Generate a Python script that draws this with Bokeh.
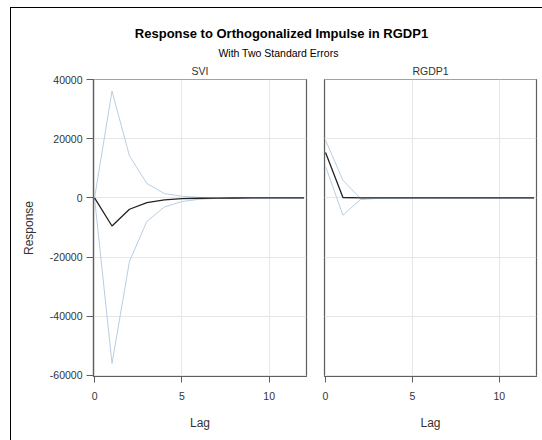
from bokeh.plotting import figure
from bokeh.layouts import column, row
from bokeh.models import Range1d, FixedTicker, Label, ColumnDataSource
from bokeh.embed import file_html
from bokeh.resources import INLINE

# ---- data ----
lags = list(range(13))
svi_resp = [0, -9500, -3830, -1560, -680, -250, -100, -35, -10, 0, 0, 0, 0]
svi_upper = [0, 36170, 14240, 4880, 1490, 580, 200, 70, 20, 5, 0, 0, 0]
svi_lower = [0, -56030, -21460, -7900, -3050, -1220, -450, -150, -50, -15, 0, 0, 0]
rgdp_resp = [15390, 150, 20, 0, 0, 0, 0, 0, 0, 0, 0, 0, 0]
rgdp_upper = [19560, 6000, -100, 30, 10, 0, 0, 0, 0, 0, 0, 0, 0]
rgdp_lower = [10750, -5860, -550, -150, -30, 0, 0, 0, 0, 0, 0, 0, 0]
panel_names = ["SVI", "RGDP1"]
y_ticks = [-60000, -40000, -20000, 0, 20000, 40000]
y_tick_labels = ["-60000", "-40000", "-20000", "0", "20000", "40000"]
x_ticks = [0, 5, 10]
main_title = "Response to Orthogonalized Impulse in RGDP1"
sub_title = "With Two Standard Errors"
x_label = "Lag"
y_label = "Response"

FONT = "Liberation Sans"
TXT = "#333333"
FRAME = "#5e5e5e"
GRID = "#e6e6e6"
BAND = "#b9cde3"
LINE = "#222222"

# ---- title block ----
tfig = figure(width=542, height=60, x_range=Range1d(0, 1), y_range=Range1d(0, 1),
              output_backend="svg", toolbar_location=None,
              x_axis_location=None, y_axis_location=None,
              min_border=0, min_border_left=0, min_border_right=0,
              min_border_top=0, min_border_bottom=0)
tfig.outline_line_color = None
tfig.border_fill_color = None
tfig.background_fill_color = None
tfig.xgrid.visible = False
tfig.ygrid.visible = False
tfig.add_layout(Label(x=281, y=27, x_units="screen", y_units="screen", text=main_title,
                      text_font=FONT, text_font_size="13px", text_font_style="bold",
                      text_color="#000000", text_align="center", text_baseline="middle"))
tfig.add_layout(Label(x=278, y=8, x_units="screen", y_units="screen", text=sub_title,
                      text_font=FONT, text_font_size="10.5px",
                      text_color="#000000", text_align="center", text_baseline="middle"))


def make_panel(name, resp, upper, lower, left):
    if left:
        w, mbl, mbr = 315, 93, 9
    else:
        w, mbl, mbr = 227, 9, 6
    p = figure(width=w, height=380, x_range=Range1d(-0.06, 12.14),
               y_range=Range1d(-60450, 40100),
               output_backend="svg", toolbar_location=None,
               min_border_left=mbl, min_border_right=mbr,
               min_border_top=19, min_border_bottom=64)
    p.border_fill_color = None
    p.background_fill_color = "white"
    p.title.text = name
    p.title.align = "center"
    p.title.text_font = FONT
    p.title.text_font_size = "10.5px"
    p.title.text_font_style = "normal"
    p.title.text_color = TXT
    p.title.standoff = 5
    p.title.offset = 0

    src = ColumnDataSource(dict(lag=lags, resp=resp, upper=upper, lower=lower))
    p.line("lag", "upper", source=src, line_color=BAND, line_width=1)
    p.line("lag", "lower", source=src, line_color=BAND, line_width=1)
    p.line("lag", "resp", source=src, line_color=LINE, line_width=1.3)

    p.outline_line_color = FRAME
    p.outline_line_width = 1.2

    p.xaxis.ticker = FixedTicker(ticks=x_ticks)
    p.xgrid.ticker = FixedTicker(ticks=x_ticks)
    p.yaxis.ticker = FixedTicker(ticks=y_ticks)
    p.ygrid.ticker = FixedTicker(ticks=y_ticks)
    p.yaxis.major_label_overrides = {t: s for t, s in zip(y_ticks, y_tick_labels)}
    p.xgrid.grid_line_color = GRID
    p.ygrid.grid_line_color = GRID

    for ax in (p.xaxis, p.yaxis):
        ax.axis_line_color = FRAME
        ax.axis_line_width = 1.2
        ax.major_tick_line_color = FRAME
        ax.minor_tick_line_color = None
        ax.major_tick_in = 0
        ax.major_label_text_font = FONT
        ax.major_label_text_font_size = "10.5px"
        ax.major_label_text_color = TXT
        ax.axis_label_text_font = FONT
        ax.axis_label_text_font_size = "12px"
        ax.axis_label_text_font_style = "normal"
        ax.axis_label_text_color = TXT

    p.xaxis.major_tick_out = 6
    p.xaxis.major_label_standoff = 9
    p.xaxis.axis_label = x_label
    p.xaxis.axis_label_standoff = 13

    p.yaxis.major_tick_out = 7
    p.yaxis.major_label_standoff = 4
    if left:
        p.yaxis.axis_label = y_label
        p.yaxis.axis_label_standoff = 11
    else:
        p.yaxis.visible = False
    return p


p1 = make_panel(panel_names[0], svi_resp, svi_upper, svi_lower, True)
p2 = make_panel(panel_names[1], rgdp_resp, rgdp_upper, rgdp_lower, False)

frame_styles = {
    "background-color": "white",
    "background-image": "linear-gradient(#000,#000), linear-gradient(#000,#000)",
    "background-size": "1px 100%, 100% 1px",
    "background-position": "10px 7px, 10px 7px",
    "background-repeat": "no-repeat",
}
layout = column(tfig, row(p1, p2, spacing=0), spacing=0, styles=frame_styles)
open("out.html", "w").write(file_html(layout, INLINE))
